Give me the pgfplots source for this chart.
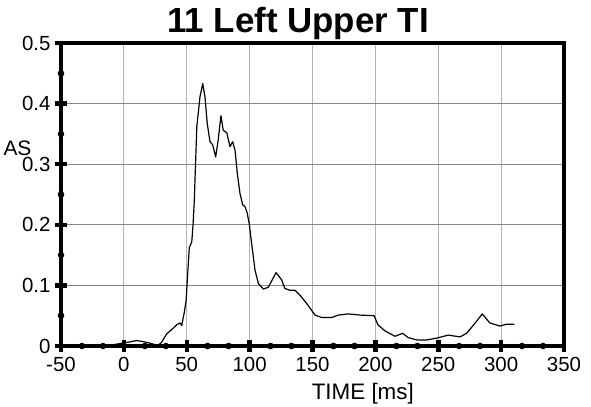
\documentclass[border=0pt]{standalone}
\usepackage{pgfplots}
\pgfplotsset{compat=1.18}
\usepackage{fontspec}
\setmainfont{Liberation Sans}
\begin{document}
\begin{tikzpicture}
\useasboundingbox (0,0) rectangle (591bp,407bp);
\begin{axis}[
  at={(61bp,61bp)}, anchor=south west,
  scale only axis, width=503bp, height=303bp,
  xmin=-50, xmax=350, ymin=0, ymax=0.5,
  xtick={-50,0,...,350}, ytick={0,0.1,...,0.5},
  minor x tick num=2, minor y tick num=1,
  tick pos=left, tick align=center,
  major tick length=12bp, minor tick length=0.1bp,
  major tick style={line width=4.5bp, black},
  minor tick style={line width=6.5bp, black, line cap=round},
  axis line style={line width=4bp, black},
  grid=major,
  x grid style={line width=1bp, black!30},
  y grid style={line width=1bp, black!48},
  /pgf/number format/assume math mode=true,
  ticklabel style={font=\fontsize{20.5}{22}\selectfont},
  yticklabel style={/pgf/number format/fixed, /pgf/number format/precision=1, xshift=-1bp},
  xticklabel style={yshift=-2bp},
  every axis x label/.style={at={(rel axis cs:0.6,0)}, anchor=base, yshift=-53bp, font=\fontsize{22.5}{24}\selectfont},
  every axis y label/.style={at={(rel axis cs:0,0.63)}, anchor=base west, xshift=-61bp, font=\fontsize{21}{23}\selectfont},
  xlabel={TIME [ms]}, ylabel={AS},
]
\addplot[black, line width=1.2bp, line join=round] coordinates {
(-9,0.002) (-3,0.004) (3,0.006) (10,0.009) (16,0.007) (22,0.004) (27,0.001)
(30,0.006) (34,0.020) (38,0.027) (42,0.035) (44.6,0.038) (46,0.034) (48,0.055)
(49.5,0.075) (50.5,0.110) (52,0.162) (54,0.172) (55,0.200) (56,0.240) (58,0.362)
(60.5,0.411) (62.7,0.433) (64.5,0.411) (66.3,0.367) (68.5,0.337) (70.6,0.332)
(73,0.312) (75,0.340) (77.2,0.380) (79,0.356) (81.8,0.352) (84.4,0.329)
(86.5,0.337) (88.4,0.323) (90.2,0.285) (92.3,0.252) (94.5,0.233) (96.3,0.230)
(98,0.220) (99.7,0.202) (101.6,0.169) (104.3,0.125) (107,0.103) (110.9,0.094)
(114.9,0.097) (121,0.121) (125.5,0.109) (128,0.095) (132,0.092) (136,0.092)
(140,0.084) (145.4,0.070) (152,0.051) (157.3,0.047) (165.3,0.047) (170.5,0.051)
(178.5,0.053) (187.8,0.051) (199,0.050) (202,0.035) (207.6,0.025) (215.6,0.016)
(221.7,0.021) (226,0.014) (232.9,0.010) (240.8,0.010) (248.8,0.013) (258,0.018)
(267.3,0.015) (272.6,0.021) (279,0.037) (285,0.053) (291,0.038) (299,0.033)
(304.4,0.036) (310.5,0.036)
};
\end{axis}
\node[anchor=base, font=\fontsize{35}{37}\selectfont\bfseries] at (298bp,374bp) {11 Left Upper TI};
\end{tikzpicture}
\end{document}
